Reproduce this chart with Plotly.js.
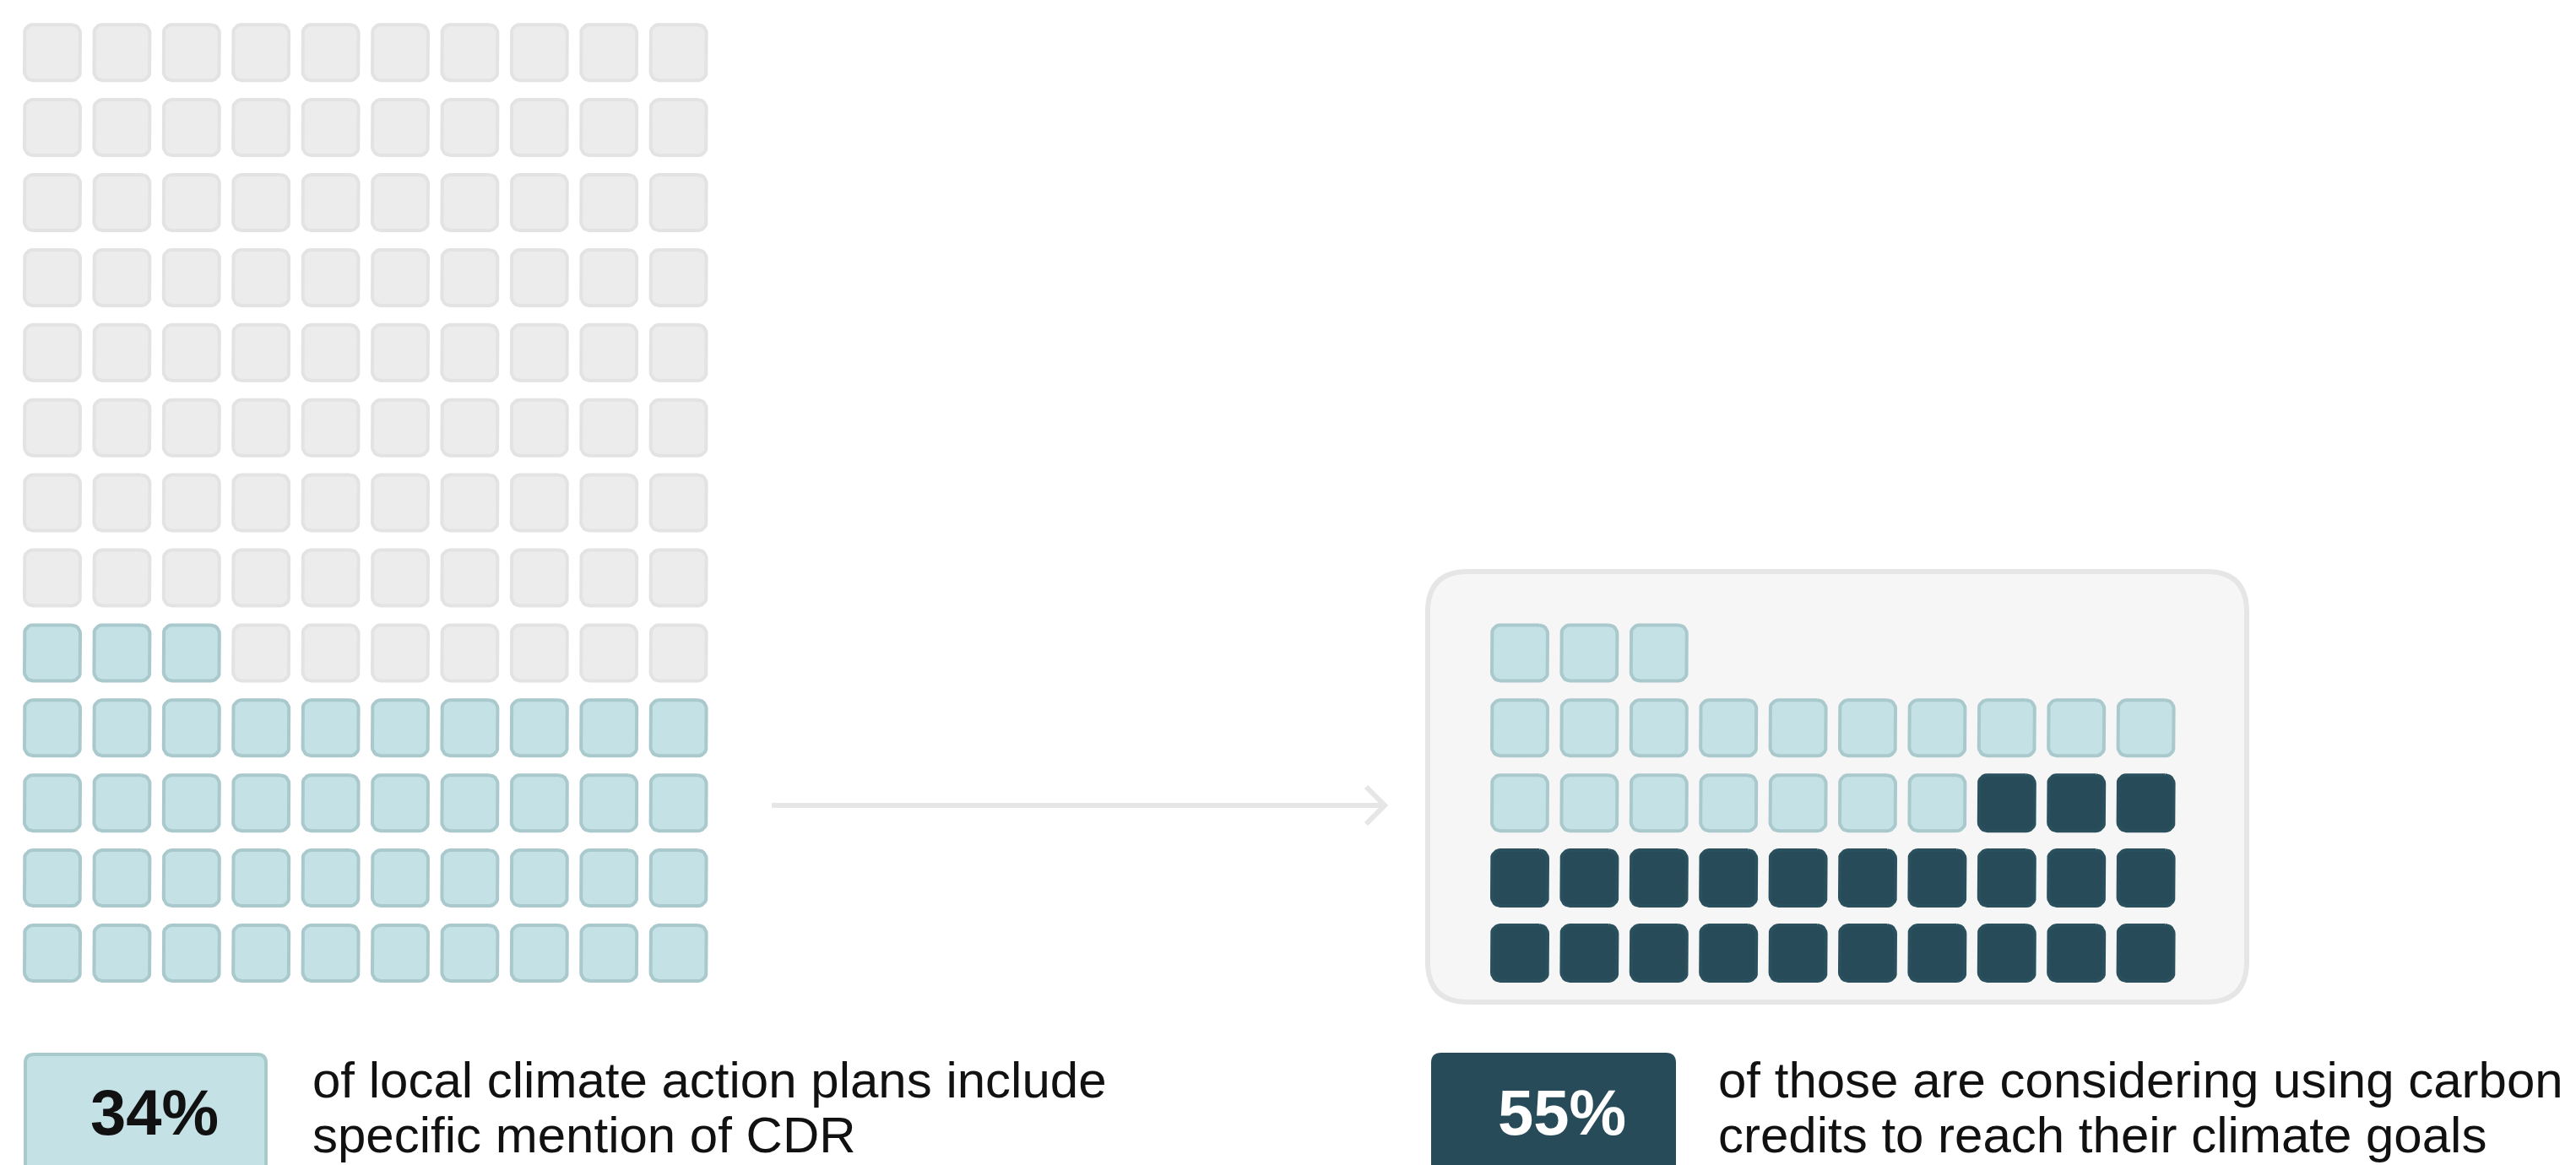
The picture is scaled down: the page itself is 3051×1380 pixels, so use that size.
<!DOCTYPE html>
<html><head><meta charset="utf-8">
<script src="https://cdn.plot.ly/plotly-3.0.1.min.js"></script>
<style>html,body{margin:0;padding:0;background:#fff;overflow:hidden;} #chart{width:3051px;height:1380px;}</style>
</head><body><div id="chart"></div>
<script>
// ---------------- data ----------------
const gridColumns = 10;            // cells per waffle row
const totalPlans = 130;            // all cells of the left waffle (13 rows x 10)
const plansWithCDR = 43;           // highlighted cells (~34%)
const plansCarbonCredits = 23;     // dark cells in the right waffle (~55% of those)
const percentLabels = ['34%', '55%'];
const descLeft = ['of local climate action plans include', 'specific mention of CDR'];
const descRight = ['of those are considering using carbon', 'credits to reach their climate goals'];

// ---------------- layout geometry (pixels of the page) ----------------
const W = 3051, H = 1380;
const PX = 82.4, PY = 88.9;        // column / row pitch
const X0 = 62, Y0 = 1129;          // centre of bottom-left cell of the left waffle
const RIGHT_START = 1800;          // centre x of first column of the right waffle
const px2x = p => (p - X0) / PX;
const px2y = p => (Y0 - p) / PY;

function roundedRectPx(x0, y0, x1, y1, r, n) {
  const pts = [];
  const corners = [
    [x1 - r, y0 + r, -90], [x1 - r, y1 - r, 0], [x0 + r, y1 - r, 90], [x0 + r, y0 + r, 180]
  ];
  corners.forEach(([cx, cy, a0]) => {
    for (let k = 0; k <= n; k++) {
      const a = (a0 + 90 * k / n) * Math.PI / 180;
      pts.push([cx + r * Math.cos(a), cy + r * Math.sin(a)]);
    }
  });
  pts.push(pts[0]);
  return pts;
}

function addCell(group, col, row, startPx) {
  const cxp = startPx + col * PX;
  const cyp = Y0 - row * PY;
  const h = 33;
  const pts = roundedRectPx(cxp - h, cyp - h, cxp + h, cyp + h, 10, 6);
  pts.forEach(([x, y]) => { group.x.push(px2x(x)); group.y.push(px2y(y)); });
  group.x.push(null); group.y.push(null);
}

const grey = {x: [], y: []}, lightL = {x: [], y: []}, lightR = {x: [], y: []}, dark = {x: [], y: []};
for (let i = 0; i < totalPlans; i++) {
  const row = Math.floor(i / gridColumns), col = i % gridColumns;
  addCell(i < plansWithCDR ? lightL : grey, col, row, X0);
}
for (let i = 0; i < plansWithCDR; i++) {
  const row = Math.floor(i / gridColumns), col = i % gridColumns;
  const darkIndex = row * gridColumns + (gridColumns - 1 - col);
  addCell(darkIndex < plansCarbonCredits ? dark : lightR, col, row, RIGHT_START);
}

function cellTrace(g, fill, line, name) {
  return {type: 'scatter', mode: 'lines', x: g.x, y: g.y, fill: 'toself', fillcolor: fill,
    line: {color: line, width: 4}, hoverinfo: 'skip', showlegend: false, name: name, connectgaps: false};
}
const traces = [
  cellTrace(grey, '#ececec', '#e3e3e3', 'all plans'),
  cellTrace(lightL, '#c4e2e5', '#a9c9cd', 'plans with CDR'),
  cellTrace(lightR, '#c4e2e5', '#a9c9cd', 'plans with CDR'),
  cellTrace(dark, '#274b58', '#2b505d', 'carbon credits')
];

function roundPath(x0, y0, x1, y1, r) {
  const X = px2x, Y = px2y;
  return `M${X(x0 + r)},${Y(y0)} L${X(x1 - r)},${Y(y0)} Q${X(x1)},${Y(y0)} ${X(x1)},${Y(y0 + r)} ` +
    `L${X(x1)},${Y(y1 - r)} Q${X(x1)},${Y(y1)} ${X(x1 - r)},${Y(y1)} L${X(x0 + r)},${Y(y1)} ` +
    `Q${X(x0)},${Y(y1)} ${X(x0)},${Y(y1 - r)} L${X(x0)},${Y(y0 + r)} Q${X(x0)},${Y(y0)} ${X(x0 + r)},${Y(y0)} Z`;
}

const shapes = [
  {type: 'path', xref: 'x', yref: 'y', layer: 'below', path: roundPath(1691, 677, 2661, 1187, 48),
    fillcolor: '#f6f6f6', line: {color: '#e6e6e6', width: 6}},
  {type: 'path', xref: 'x', yref: 'y', layer: 'below',
    path: `M${px2x(914)},${px2y(954)} L${px2x(1638)},${px2y(954)}`, line: {color: '#e6e6e6', width: 6}},
  {type: 'path', xref: 'x', yref: 'y', layer: 'below',
    path: `M${px2x(1618)},${px2y(932)} L${px2x(1640)},${px2y(954)} L${px2x(1618)},${px2y(976)}`,
    line: {color: '#e6e6e6', width: 6}},
  {type: 'path', xref: 'x', yref: 'y', layer: 'below', path: roundPath(30, 1249, 315, 1440, 10),
    fillcolor: '#c4e2e5', line: {color: '#a9cacd', width: 4}},
  {type: 'path', xref: 'x', yref: 'y', layer: 'below', path: roundPath(1695, 1247, 1985, 1440, 12),
    fillcolor: '#274b58', line: {color: '#274b58', width: 0}}
];

const textFont = {family: 'Liberation Sans, Arial, sans-serif', size: 60, color: '#111111'};
const pctFont = (c) => ({family: 'Liberation Sans, Arial, sans-serif', size: 76, color: c, weight: 700});
function ann(text, xpx, ypx, font, xanchor) {
  return {text: text, x: px2x(xpx), y: px2y(ypx), xref: 'x', yref: 'y', showarrow: false,
    xanchor: xanchor, yanchor: 'middle', font: font};
}
const annotations = [
  ann(percentLabels[0], 183, 1317, pctFont('#111111'), 'center'),
  ann(percentLabels[1], 1850, 1317, pctFont('#ffffff'), 'center'),
  ann(descLeft[0], 368, 1279, textFont, 'left'),
  ann(descLeft[1], 368, 1344, textFont, 'left'),
  ann(descRight[0], 2033, 1279, textFont, 'left'),
  ann(descRight[1], 2033, 1344, textFont, 'left')
];

const layout = {
  width: W, height: H, margin: {l: 0, r: 0, t: 0, b: 0, pad: 0},
  paper_bgcolor: '#ffffff', plot_bgcolor: '#ffffff', showlegend: false,
  xaxis: {range: [px2x(0), px2x(W)], visible: false, showgrid: false, zeroline: false, fixedrange: true},
  yaxis: {range: [px2y(H), px2y(0)], visible: false, showgrid: false, zeroline: false, fixedrange: true},
  shapes: shapes, annotations: annotations
};
Plotly.newPlot('chart', traces, layout, {displayModeBar: false, staticPlot: true});
</script>
</body></html>
